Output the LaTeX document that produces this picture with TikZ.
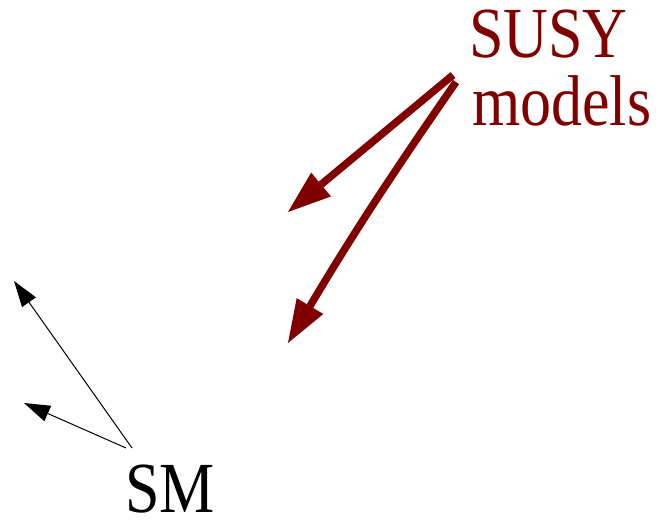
\documentclass[tikz,border=0pt]{standalone}
\usepackage{fontspec}
\usepackage{graphicx}
\setmainfont{Liberation Serif}
\usetikzlibrary{arrows.meta}
\definecolor{susyred}{RGB}{128,0,0}
\newcommand{\tallbox}[1]{\scalebox{1}[1.16]{#1}}
\begin{document}
\begin{tikzpicture}[x=1pt,y=-1pt,
  lbl/.style={font=\fontsize{62}{68}\selectfont, inner sep=0pt, anchor=base west, text depth=0pt},
  susyarrow/.style={draw=susyred, line width=7.5pt, -{Triangle[length=43pt,width=31pt,line width=0pt]}},
  smarrow/.style={draw=black, line width=1pt, -{Triangle[length=26pt,width=17pt,line width=0pt]}}]
\useasboundingbox (0,0) rectangle (656,522);
\node[lbl, text=susyred] (susy) at (469,57) {\tallbox{SUSY}};
\node[lbl, text=susyred] (models) at (472,125) {\tallbox{models}};
\node[lbl] (sm) at (125,512) {\tallbox{SM}};
\coordinate (r1s) at (453,75);
\coordinate (r1t) at (288,212);
\coordinate (r2s) at (456,82);
\coordinate (r2t) at (288,343);
\coordinate (b1s) at (132,448);
\coordinate (b1t) at (14,281);
\coordinate (b2s) at (126,448);
\coordinate (b2t) at (24,403);
\draw[susyarrow] (r1s) -- (r1t);
\draw[susyarrow] (r2s) to[bend right=2] (r2t);
\draw[smarrow] (b1s) -- (b1t);
\draw[smarrow] (b2s) -- (b2t);
\end{tikzpicture}
\end{document}
